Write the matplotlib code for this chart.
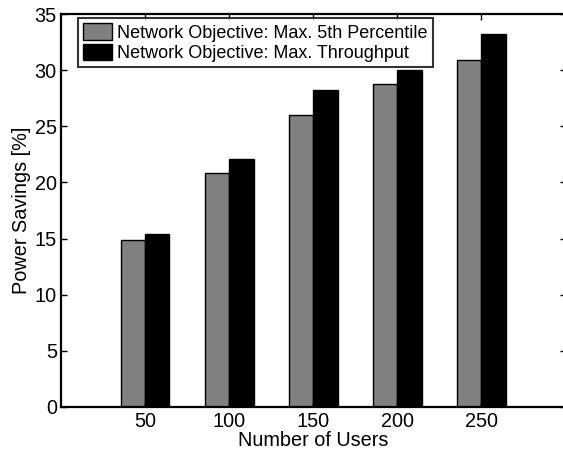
import numpy as np
import matplotlib.pyplot as plt

plt.rcParams['font.family'] = ['Liberation Sans', 'DejaVu Sans']

# Power savings per number of users for the two network objectives
users = ['50', '100', '150', '200', '250']
savings_5th = [14.9, 20.8, 26.0, 28.8, 30.9]
savings_thr = [15.4, 22.05, 28.2, 30.0, 33.2]

x = np.arange(1, len(users) + 1)
w = 0.29

fig = plt.figure(figsize=(5.63, 4.5), dpi=100)
ax = fig.add_axes([61 / 563, 43 / 450, 504.5 / 563, 393 / 450])

ax.bar(x - w / 2, savings_5th, w, color='#808080', edgecolor='black', linewidth=1,
       label='Network Objective: Max. 5th Percentile')
ax.bar(x + w / 2, savings_thr, w, color='black', edgecolor='black', linewidth=1,
       label='Network Objective: Max. Throughput')

ax.set_xlim(0, 6)
ax.set_ylim(0, 35)
ax.set_xticks(x)
ax.set_xticklabels(users)
ax.set_yticks(np.arange(0, 36, 5))
ax.tick_params(direction='in', top=True, right=True, labelsize=14.3, length=4, width=1)
ax.tick_params(axis='x', pad=3.5)
ax.tick_params(axis='y', pad=3)
for s in ax.spines.values():
    s.set_linewidth(1.6)

ax.set_xlabel('Number of Users', fontsize=14.3, labelpad=0)
ax.set_ylabel('Power Savings [%]', fontsize=14.3, labelpad=3)

leg = ax.legend(loc='upper left', bbox_to_anchor=(0.0337, 0.99), fontsize=13,
                frameon=True, fancybox=False, borderpad=0.3, labelspacing=0.12,
                handlelength=1.6, handleheight=1.0, handletextpad=0.25, borderaxespad=0)
leg.get_frame().set_edgecolor('black')
leg.get_frame().set_linewidth(1.5)
for h in leg.legend_handles:
    h.set_edgecolor('black')
    h.set_linewidth(1)

plt.savefig('out.png', dpi=100)
